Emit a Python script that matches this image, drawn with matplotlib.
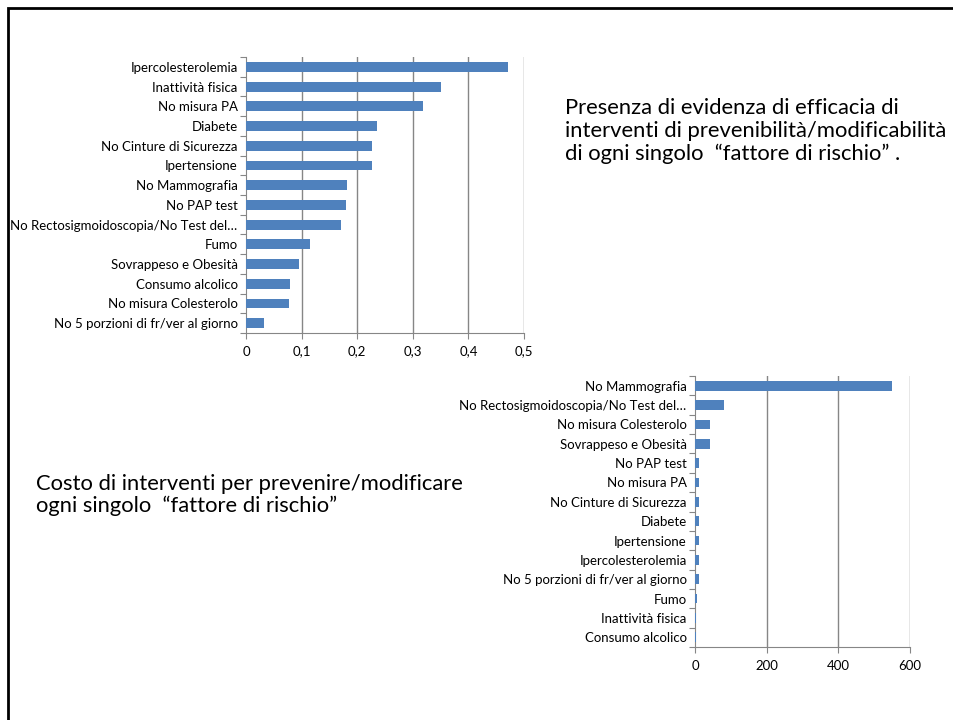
import matplotlib.pyplot as plt
from matplotlib.ticker import FixedLocator, FuncFormatter
from matplotlib.patches import Rectangle

plt.rcParams['font.family'] = ['Lato', 'DejaVu Sans']

# Efficacy of interventions per risk factor (top chart, top-to-bottom order)
efficacy_labels = [
    "Ipercolesterolemia", "Inattività fisica", "No misura PA", "Diabete",
    "No Cinture di Sicurezza", "Ipertensione", "No Mammografia", "No PAP test",
    "No Rectosigmoidoscopia/No Test del…", "Fumo", "Sovrappeso e Obesità",
    "Consumo alcolico", "No misura Colesterolo", "No 5 porzioni di fr/ver al giorno",
]
efficacy_values = [0.471, 0.35, 0.318, 0.235, 0.226, 0.226, 0.182, 0.180,
                   0.170, 0.116, 0.095, 0.080, 0.077, 0.032]

# Cost of interventions per risk factor (bottom chart, top-to-bottom order)
cost_labels = [
    "No Mammografia", "No Rectosigmoidoscopia/No Test del…", "No misura Colesterolo",
    "Sovrappeso e Obesità", "No PAP test", "No misura PA", "No Cinture di Sicurezza",
    "Diabete", "Ipertensione", "Ipercolesterolemia", "No 5 porzioni di fr/ver al giorno",
    "Fumo", "Inattività fisica", "Consumo alcolico",
]
cost_values = [550, 81, 42, 42, 12, 10, 10, 10, 10, 10, 10, 5, 4, 3]

efficacy_ticks = [0, 0.1, 0.2, 0.3, 0.4, 0.5]
cost_ticks = [0, 200, 400, 600]

BAR = '#4F81BD'
GRID = '#868686'

W, H = 954, 720
fig = plt.figure(figsize=(W / 100, H / 100), dpi=100)


def px_axes(left, top, right, bottom):
    return fig.add_axes([left / W, 1 - bottom / H, (right - left) / W, (bottom - top) / H])


def excel_barh(ax, labels, values, ticks, fmt):
    n = len(labels)
    pos = list(range(n))[::-1]
    ax.barh(pos, values, height=0.5, color=BAR, zorder=3)
    ax.set_ylim(-0.5, n - 0.5)
    ax.set_xlim(ticks[0], ticks[-1])
    ax.set_yticks(pos)
    ax.set_yticklabels(labels, fontsize=9.5, color='#000000')
    ax.yaxis.set_minor_locator(FixedLocator([i - 0.5 for i in range(n + 1)]))
    ax.tick_params(axis='y', which='major', length=0, pad=6)
    ax.tick_params(axis='y', which='minor', length=4, color=GRID, width=0.8)
    ax.set_xticks(ticks)
    ax.xaxis.set_major_formatter(FuncFormatter(fmt))
    ax.tick_params(axis='x', length=4, color=GRID, width=0.8, labelsize=9.5, pad=5)
    for t in ticks[1:]:
        ax.axvline(t, color=GRID, lw=1, zorder=1)
    for side in ('top', 'right'):
        ax.spines[side].set_visible(False)
    for side in ('left', 'bottom'):
        ax.spines[side].set_color(GRID)
        ax.spines[side].set_linewidth(0.8)


ax1 = px_axes(246, 57, 524, 333)
excel_barh(ax1, efficacy_labels, efficacy_values, efficacy_ticks,
           lambda v, _: '0' if v == 0 else f"{v:.1f}".replace('.', ','))

ax2 = px_axes(695, 376, 910, 647)
excel_barh(ax2, cost_labels, cost_values, cost_ticks, lambda v, _: f"{v:.0f}")

fig.text(565 / W, 1 - 131 / H,
         "Presenza di evidenza di efficacia di\n"
         "interventi di prevenibilità/modificabilità\n"
         "di ogni singolo  “fattore di rischio” .",
         fontsize=15.8, va='center', ha='left', linespacing=1.15)

fig.text(36 / W, 1 - 495 / H,
         "Costo di interventi per prevenire/modificare\n"
         "ogni singolo  “fattore di rischio”",
         fontsize=15.8, va='center', ha='left', linespacing=1.15)

# slide border
fig.add_artist(Rectangle((8 / W, -0.1), 1.2, 1 - 8 / H + 0.1, transform=fig.transFigure,
                         fill=False, edgecolor='black', linewidth=2))

fig.savefig('out.png', dpi=100)
